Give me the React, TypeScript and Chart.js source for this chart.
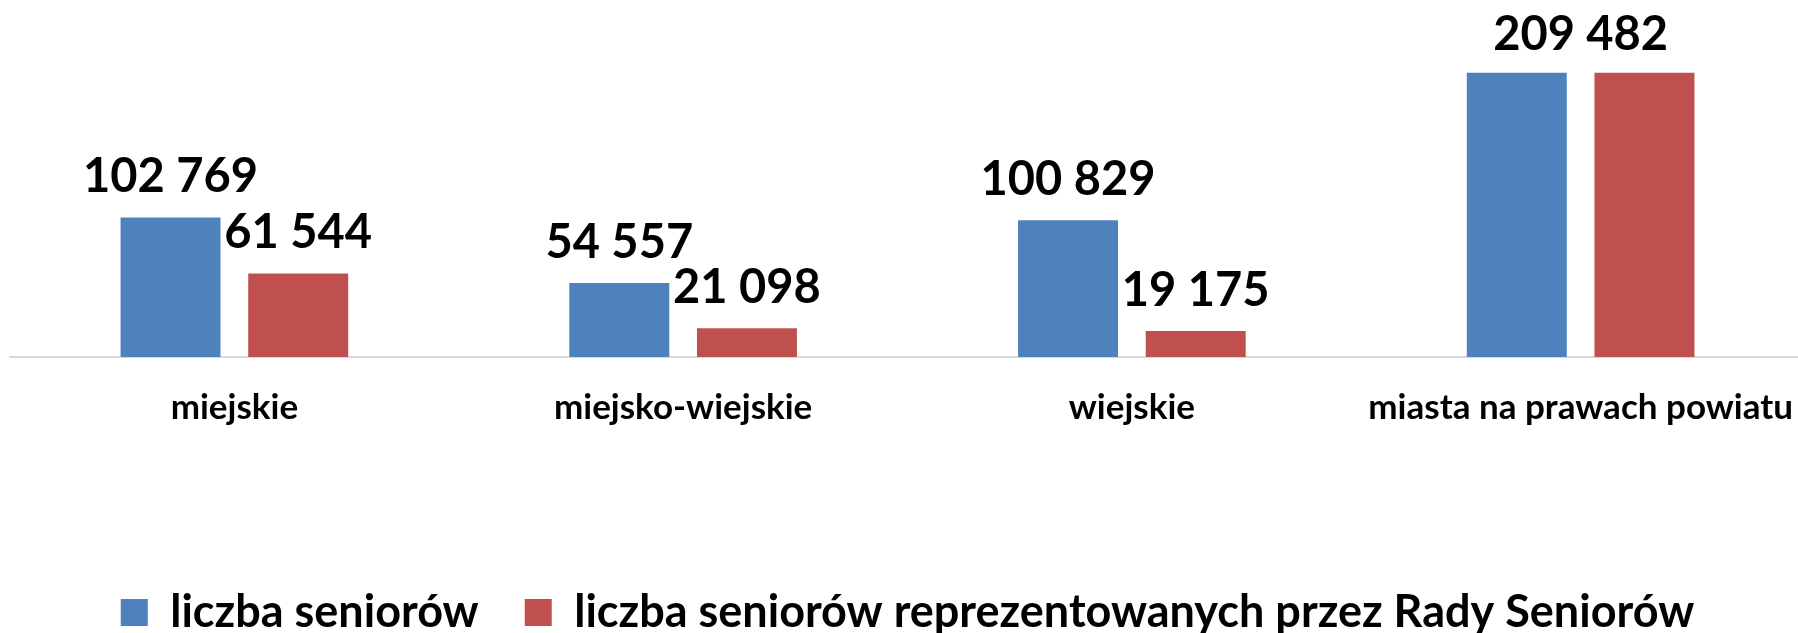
import React, { useEffect, useRef } from "react";
import { Chart, registerables } from "chart.js";

Chart.register(...registerables);

const categories = ["miejskie", "miejsko-wiejskie", "wiejskie", "miasta na prawach powiatu"];
const seniorsTotal = [102769, 54557, 100829, 209482];
const seniorsRepresented = [61544, 21098, 19175, 209482];
const seriesNames = ["liczba seniorów", "liczba seniorów reprezentowanych przez Rady Seniorów"];

const BLUE = "#4F81BD";
const RED = "#C0504D";
const FONT = "Lato";

const formatValue = (v: number) => String(v).replace(/\B(?=(\d{3})+(?!\d))/g, " ");

const valueLabels = {
  id: "valueLabels",
  afterDatasetsDraw(chart: any) {
    const ctx = chart.ctx;
    ctx.save();
    ctx.font = `bold 47px ${FONT}`;
    ctx.fillStyle = "#000";
    ctx.textAlign = "center";
    ctx.textBaseline = "alphabetic";
    const m0 = chart.getDatasetMeta(0);
    const m1 = chart.getDatasetMeta(1);
    categories.forEach((_, i) => {
      const a = chart.data.datasets[0].data[i];
      const b = chart.data.datasets[1].data[i];
      const e0 = m0.data[i];
      const e1 = m1.data[i];
      if (a === b) {
        ctx.fillText(formatValue(a), (e0.x + e1.x) / 2, Math.min(e0.y, e1.y) - 23);
      } else {
        ctx.fillText(formatValue(a), e0.x, e0.y - 25);
        ctx.fillText(formatValue(b), e1.x, e1.y - 25);
      }
    });
    ctx.restore();
  },
};

export default function App() {
  const ref = useRef<HTMLCanvasElement>(null);
  useEffect(() => {
    if (!ref.current) return;
    Chart.defaults.font.family = FONT;
    const chart = new Chart(ref.current, {
      type: "bar",
      data: {
        labels: categories,
        datasets: [
          { label: seriesNames[0], data: seniorsTotal, backgroundColor: BLUE, borderWidth: 0 },
          { label: seriesNames[1], data: seniorsRepresented, backgroundColor: RED, borderWidth: 0 },
        ],
      },
      options: {
        responsive: false,
        animation: false,
        layout: { padding: { left: 10, right: 0, top: 0, bottom: 0 } },
        datasets: { bar: { categoryPercentage: 0.569, barPercentage: 0.783 } },
        plugins: {
          tooltip: { enabled: false },
          legend: {
            position: "bottom",
            labels: {
              color: "#000",
              font: { size: 45, weight: "bold", family: FONT },
              boxWidth: 27,
              boxHeight: 27,
              padding: 46,
            },
          },
        },
        scales: {
          x: {
            grid: { display: false, drawTicks: false },
            border: { display: true, color: "#d9d9d9", width: 2 },
            ticks: { color: "#000", font: { size: 35, weight: "bold", family: FONT }, padding: 30, maxRotation: 0, autoSkip: false },
            afterFit: (scale: any) => {
              scale.height = 187;
              scale.paddingLeft = 0;
              scale.paddingRight = 0;
            },
          },
          y: { display: false, min: 0, max: 263000 },
        },
      },
      plugins: [valueLabels],
    });
    return () => chart.destroy();
  }, []);
  return (
    <div style={{ position: "fixed", left: 0, top: 0, width: 1805, height: 645, background: "#fff" }}>
      <canvas ref={ref} width={1805} height={645} style={{ display: "block" }} />
    </div>
  );
}
